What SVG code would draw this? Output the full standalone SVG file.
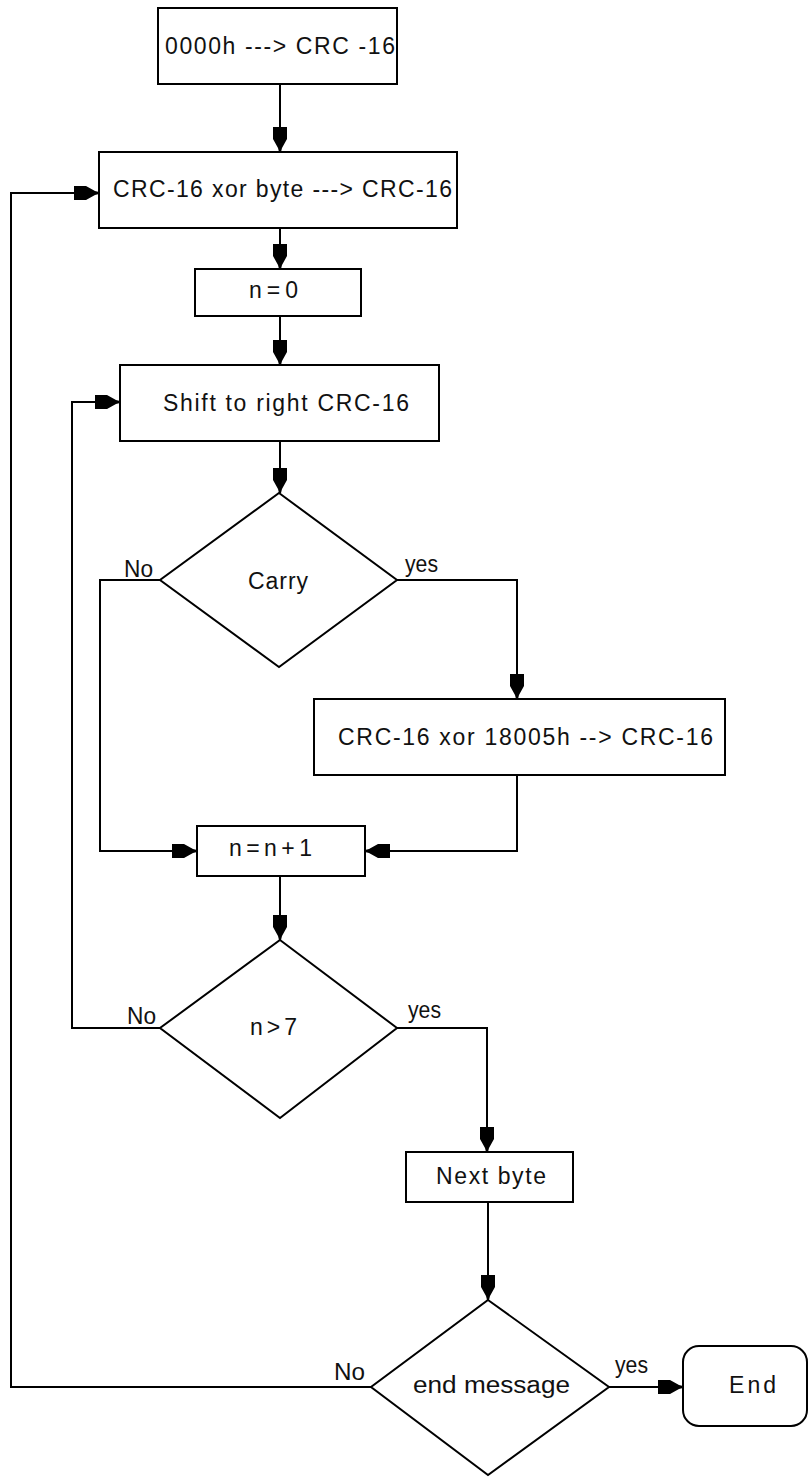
<svg xmlns="http://www.w3.org/2000/svg" width="811" height="1477" viewBox="0 0 811 1477">
<style>
.box{fill:#fff;stroke:#000;stroke-width:2}
.con{fill:none;stroke:#000;stroke-width:2}
text{font-family:"Liberation Sans",Arial,sans-serif;font-size:23px;fill:#111}
</style>
<defs>
<marker id="ah" markerUnits="userSpaceOnUse" markerWidth="30" markerHeight="20" viewBox="-26 -10 27 20" refX="0" refY="0" orient="auto">
<path d="M-25,-7 L-13,-7 L-4,-2 L0,-1 L0,1 L-4,2 L-13,7 L-25,7 Z" fill="#000"/>
</marker>
</defs>
<rect width="811" height="1477" fill="#fff"/>
<g id="connectors">
<path class="con" d="M280,84 V152" marker-end="url(#ah)"/>
<path class="con" d="M280,228 V269" marker-end="url(#ah)"/>
<path class="con" d="M280,316 V365" marker-end="url(#ah)"/>
<path class="con" d="M280,441 V493" marker-end="url(#ah)"/>
<path class="con" d="M397,580 H517 V699" marker-end="url(#ah)"/>
<path class="con" d="M160,580 H100 V851 H197" marker-end="url(#ah)"/>
<path class="con" d="M517,775 V851 H365" marker-end="url(#ah)"/>
<path class="con" d="M280,876 V940" marker-end="url(#ah)"/>
<path class="con" d="M160,1028 H72 V402 H120" marker-end="url(#ah)"/>
<path class="con" d="M397,1028 H487 V1152" marker-end="url(#ah)"/>
<path class="con" d="M488,1202 V1300" marker-end="url(#ah)"/>
<path class="con" d="M371,1387 H11 V193 H99" marker-end="url(#ah)"/>
<path class="con" d="M609,1387 H683" marker-end="url(#ah)"/>
<text x="124" y="577" textLength="29" lengthAdjust="spacingAndGlyphs">No</text>
<text x="405" y="572" textLength="33" lengthAdjust="spacingAndGlyphs">yes</text>
<text x="127" y="1024" textLength="29" lengthAdjust="spacingAndGlyphs">No</text>
<text x="408" y="1018" textLength="33" lengthAdjust="spacingAndGlyphs">yes</text>
<text x="334" y="1380" textLength="31" lengthAdjust="spacingAndGlyphs">No</text>
<text x="615" y="1373" textLength="33" lengthAdjust="spacingAndGlyphs">yes</text>
</g>
<g id="init">
<rect class="box" x="158" y="8" width="239" height="76"/>
<text x="165" y="54" textLength="230" lengthAdjust="spacing">0000h ---&gt; CRC -16</text>
</g>
<g id="xorbyte">
<rect class="box" x="99" y="152" width="358" height="76"/>
<text x="113" y="197" textLength="339" lengthAdjust="spacing">CRC-16 xor byte ---&gt; CRC-16</text>
</g>
<g id="n0">
<rect class="box" x="195" y="269" width="166" height="47"/>
<text x="249" y="298" textLength="49" lengthAdjust="spacing">n = 0</text>
</g>
<g id="shift">
<rect class="box" x="120" y="365" width="319" height="76"/>
<text x="163" y="411" textLength="246" lengthAdjust="spacing">Shift to right CRC-16</text>
</g>
<g id="carry">
<polygon class="box" points="279,493 397,580 279,667 160,580"/>
<text x="248" y="589" textLength="60" lengthAdjust="spacing">Carry</text>
</g>
<g id="xorpoly">
<rect class="box" x="314" y="699" width="411" height="76"/>
<text x="338" y="745" textLength="375" lengthAdjust="spacing">CRC-16 xor 18005h --&gt; CRC-16</text>
</g>
<g id="inc">
<rect class="box" x="197" y="826" width="168" height="50"/>
<text x="229" y="856" textLength="83" lengthAdjust="spacing">n = n + 1</text>
</g>
<g id="ngt7">
<polygon class="box" points="280,940 397,1028 280,1118 160,1028"/>
<text x="250" y="1035" textLength="47" lengthAdjust="spacing">n &gt; 7</text>
</g>
<g id="nextbyte">
<rect class="box" x="406" y="1152" width="167" height="50"/>
<text x="436" y="1184" textLength="110" lengthAdjust="spacing">Next byte</text>
</g>
<g id="endmsg">
<polygon class="box" points="488,1300 609,1387 488,1475 371,1387"/>
<text x="413" y="1393" textLength="157" lengthAdjust="spacingAndGlyphs">end message</text>
</g>
<g id="end">
<rect class="box" x="683" y="1346" width="124" height="80" rx="16" ry="16"/>
<text x="729" y="1393" textLength="47" lengthAdjust="spacing">End</text>
</g>
</svg>
